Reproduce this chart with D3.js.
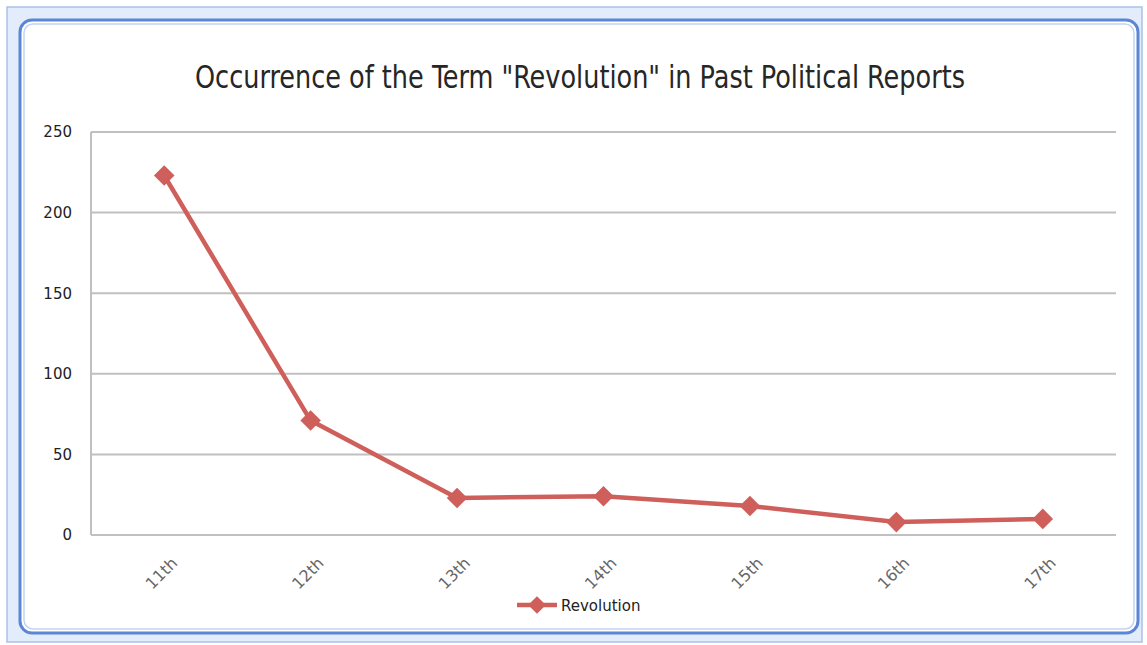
<!DOCTYPE html>
<html><head><meta charset="utf-8">
<script src="https://cdn.jsdelivr.net/npm/d3@7/dist/d3.min.js"></script>
<style>html,body{margin:0;padding:0;background:#fff;}svg{display:block;}</style>
</head><body>
<svg id="c" width="1147" height="645"></svg>
<script>
const categories = ["11th","12th","13th","14th","15th","16th","17th"];
const revolution = [223, 71, 23, 24, 18, 8, 10];
const yTicks = [0, 50, 100, 150, 200, 250];
const seriesName = "Revolution";
const title = 'Occurrence of the Term "Revolution" in Past Political Reports';

const svg = d3.select("#c");
const W = 1147, H = 645;
const red = "#cf5f5a";

// frame
svg.append("rect").attr("x",7).attr("y",7).attr("width",W-12).attr("height",H-10)
  .attr("fill","#e3ecfa").attr("stroke","#a9c2e6").attr("stroke-width",1.5);
svg.append("rect").attr("x",20).attr("y",20).attr("width",1118).attr("height",613)
  .attr("rx",12).attr("fill","#fff").attr("stroke","#5b86d6").attr("stroke-width",3);
svg.append("rect").attr("x",24).attr("y",24).attr("width",1110).attr("height",605)
  .attr("rx",9).attr("fill","#fff").attr("stroke","#c3d4f0").attr("stroke-width",1.5);

const m = {l:91, r:1116, t:132, b:535};
const x = d3.scaleBand().domain(categories).range([m.l, m.r]);
const y = d3.scaleLinear().domain([0,250]).range([m.b, m.t]);

svg.append("text").attr("x",580).attr("y",88).attr("text-anchor","middle")
  .attr("font-family","'DejaVu Sans Condensed', 'DejaVu Sans', sans-serif")
  .attr("font-size",32).attr("fill","#262626")
  .attr("textLength",770).attr("lengthAdjust","spacingAndGlyphs").text(title);

// grid
const g = svg.append("g");
g.selectAll("line.grid").data(yTicks).join("line")
  .attr("x1",m.l).attr("x2",m.r).attr("y1",d=>y(d)).attr("y2",d=>y(d))
  .attr("stroke","#c0c0c0").attr("stroke-width",2);
g.append("line").attr("x1",m.l).attr("x2",m.l).attr("y1",m.t).attr("y2",m.b)
  .attr("stroke","#c0c0c0").attr("stroke-width",2);

// y labels
const yAxis = d3.axisLeft(y).tickValues(yTicks).tickSize(0).tickPadding(19);
const ya = svg.append("g").attr("transform",`translate(${m.l},0)`).call(yAxis);
ya.select(".domain").remove();
ya.selectAll("text").attr("font-family","'DejaVu Sans', sans-serif").attr("font-size",15).attr("fill","#222");

// x labels
const xa = svg.append("g").attr("transform",`translate(0,${m.b})`)
  .call(d3.axisBottom(x).tickSize(0).tickFormat(d=>d));
xa.select(".domain").remove();
xa.selectAll("text").attr("font-family","'DejaVu Sans', sans-serif").attr("font-size",16).attr("fill","#666")
  .attr("text-anchor","end").attr("dy",0)
  .attr("transform","translate(12,27) rotate(-45)");

// line
const line = d3.line().x((d,i)=>x(categories[i])+x.bandwidth()/2).y(d=>y(d));
svg.append("path").datum(revolution).attr("d",line).attr("fill","none")
  .attr("stroke",red).attr("stroke-width",4.5).attr("stroke-linejoin","round");
const diamond = d3.symbol().type(d3.symbolDiamond2).size(270);
svg.selectAll("path.mk").data(revolution).join("path").attr("class","mk")
  .attr("d",diamond)
  .attr("transform",(d,i)=>`translate(${x(categories[i])+x.bandwidth()/2},${y(d)})`)
  .attr("fill",red);

// legend
const lg = svg.append("g").attr("transform","translate(517,605)");
lg.append("line").attr("x1",0).attr("x2",40).attr("stroke",red).attr("stroke-width",4.5);
lg.append("path").attr("d",d3.symbol().type(d3.symbolDiamond2).size(200)).attr("transform","translate(20,0)").attr("fill",red);
lg.append("text").attr("x",44).attr("y",6).attr("font-family","'DejaVu Sans', sans-serif")
  .attr("font-size",15).attr("fill","#222").text(seriesName);
</script>
</body></html>
